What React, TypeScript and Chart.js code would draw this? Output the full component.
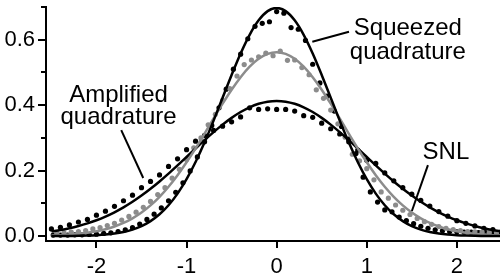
import React, { useEffect, useRef } from "react";
import { Chart, registerables } from "chart.js";

Chart.register(...registerables);

// ---- data ----
const curveX = [
  -2.5, -2.4, -2.3, -2.2, -2.1, -2.0, -1.9, -1.8, -1.7, -1.6, -1.5, -1.4, -1.3, -1.2, -1.1, -1.0, -0.9, -0.8, -0.7, -0.6, -0.5, -0.4, -0.3, -0.2, -0.1,
  0,
  0.1, 0.2, 0.3, 0.4, 0.5, 0.6, 0.7, 0.8, 0.9, 1.0, 1.1, 1.2, 1.3, 1.4, 1.5, 1.6, 1.7, 1.8, 1.9, 2.0, 2.1, 2.2, 2.3, 2.4, 2.5,
];

const squeezedFit = [
  0.0001, 0.0002, 0.0005, 0.0008, 0.0015, 0.0027, 0.0046, 0.0077, 0.0126, 0.0199, 0.0306, 0.0458, 0.0667, 0.0943, 0.1298, 0.1738, 0.2263, 0.2865, 0.3529, 0.4228, 0.4925, 0.5581, 0.6151, 0.6593, 0.6874,
  0.697,
  0.6874, 0.6593, 0.6151, 0.5581, 0.4925, 0.4228, 0.3529, 0.2865, 0.2263, 0.1738, 0.1298, 0.0943, 0.0667, 0.0458, 0.0306, 0.0199, 0.0126, 0.0077, 0.0046, 0.0027, 0.0015, 0.0008, 0.0005, 0.0002, 0.0001,
];

const snlFit = [
  0.0019, 0.0029, 0.0045, 0.0068, 0.01, 0.0146, 0.0208, 0.0292, 0.0401, 0.0543, 0.072, 0.0938, 0.1201, 0.1509, 0.1862, 0.2255, 0.2682, 0.3133, 0.3593, 0.4046, 0.4473, 0.4856, 0.5177, 0.5418, 0.5569,
  0.562,
  0.5569, 0.5418, 0.5177, 0.4856, 0.4473, 0.4046, 0.3593, 0.3133, 0.2682, 0.2255, 0.1862, 0.1509, 0.1201, 0.0938, 0.072, 0.0543, 0.0401, 0.0292, 0.0208, 0.0146, 0.01, 0.0068, 0.0045, 0.0029, 0.0019,
];

const amplifiedFit = [
  0.0145, 0.0188, 0.0242, 0.0309, 0.0389, 0.0484, 0.0597, 0.0728, 0.0878, 0.1047, 0.1237, 0.1445, 0.167, 0.1909, 0.216, 0.2417, 0.2676, 0.2931, 0.3176, 0.3406, 0.3612, 0.3791, 0.3935, 0.4042, 0.4108,
  0.413,
  0.4108, 0.4042, 0.3935, 0.3791, 0.3612, 0.3406, 0.3176, 0.2931, 0.2676, 0.2417, 0.216, 0.1909, 0.167, 0.1445, 0.1237, 0.1047, 0.0878, 0.0728, 0.0597, 0.0484, 0.0389, 0.0309, 0.0242, 0.0188, 0.0145,
];

const amplifiedDots = [
  0.022, 0.027, 0.034, 0.043, 0.051, 0.064, 0.076, 0.091, 0.108, 0.125, 0.148, 0.167, 0.187, 0.213, 0.236, 0.264, 0.29, 0.308,
  0.323, 0.336, 0.349, 0.364, 0.392, 0.387, 0.389, 0.387, 0.387, 0.382, 0.368, 0.363, 0.345, 0.328, 0.312, 0.288, 0.263, 0.232,
  0.222, 0.193, 0.169, 0.148, 0.128, 0.109, 0.092, 0.075, 0.061, 0.047, 0.039, 0.031, 0.024, 0.02, 0.015,
];

const squeezedX = [
  -2.48, -2.4, -2.32, -2.24, -2.16, -2.08, -2.0, -1.92, -1.84, -1.76, -1.68, -1.6, -1.52, -1.44, -1.36, -1.28, -1.2, -1.12, -1.04, -0.96, -0.88, -0.8, -0.72, -0.64, -0.56, -0.48, -0.4, -0.32, -0.24, -0.16, -0.08,
  0,
  0.08, 0.16, 0.24, 0.32, 0.4, 0.48, 0.56, 0.64, 0.72, 0.8, 0.88, 0.96, 1.04, 1.12, 1.2, 1.28, 1.36, 1.44, 1.52, 1.6, 1.68, 1.76, 1.84, 1.92, 2.0, 2.08, 2.16, 2.24, 2.32, 2.4, 2.48,
];

const squeezedDots = [
  0.003, 0.003, 0.003, 0.004, 0.004, 0.005, 0.006, 0.008, 0.01, 0.014, 0.019, 0.026, 0.037, 0.051, 0.067, 0.086, 0.108, 0.134, 0.163, 0.199, 0.242, 0.288, 0.338, 0.392, 0.449, 0.51, 0.556, 0.603, 0.641, 0.65, 0.655,
  0.686,
  0.681, 0.637, 0.632, 0.598, 0.525, 0.468, 0.428, 0.382, 0.335, 0.296, 0.252, 0.18, 0.135, 0.104, 0.08, 0.074, 0.058, 0.047, 0.038, 0.03, 0.024, 0.019, 0.016, 0.014, 0.013, 0.012, 0.012, 0.011, 0.011, 0.01, 0.01,
];

const snlX = [
  -2.44, -2.36, -2.28, -2.2, -2.12, -2.04, -1.96, -1.88, -1.8, -1.72, -1.64, -1.56, -1.48, -1.4, -1.32, -1.24, -1.16, -1.08, -1.0, -0.92, -0.84, -0.76, -0.68, -0.6, -0.52, -0.44, -0.36, -0.28, -0.2, -0.12, -0.04,
  0.04, 0.12, 0.2, 0.28, 0.36, 0.44, 0.52, 0.6, 0.68, 0.76, 0.84, 0.92, 1.0, 1.08, 1.16, 1.24, 1.32, 1.4, 1.48, 1.56, 1.64, 1.72, 1.8, 1.88, 1.96, 2.04, 2.12, 2.2, 2.28, 2.36, 2.44,
];

const snlDots = [
  0.009, 0.01, 0.012, 0.014, 0.017, 0.022, 0.026, 0.032, 0.039, 0.049, 0.06, 0.073, 0.088, 0.106, 0.127, 0.148, 0.177, 0.204, 0.234, 0.27, 0.3, 0.34, 0.372, 0.415, 0.451, 0.489, 0.524, 0.538, 0.548, 0.559, 0.551,
  0.565, 0.537, 0.538, 0.515, 0.493, 0.447, 0.421, 0.385, 0.343, 0.302, 0.25, 0.23, 0.206, 0.172, 0.135, 0.116, 0.095, 0.079, 0.066, 0.054, 0.044, 0.036, 0.029, 0.024, 0.02, 0.017, 0.014, 0.013, 0.012, 0.011, 0.01,
];

const xTicks = [-2, -1, 0, 1, 2];
const yTicks = [0, 0.2, 0.4, 0.6];
const yMinorTicks = [0.1, 0.3, 0.5, 0.7];

// annotation texts (anchored in data coordinates)
const labelTexts = ["Squeezed", "quadrature", "Amplified", "quadrature", "SNL"];
const labelX = [1.456, 1.456, -1.755, -1.755, 1.879];
const labelY = [0.613, 0.542, 0.409, 0.343, 0.237];
const leaderX1 = [0.396, -1.725, 1.679];
const leaderY1 = [0.594, 0.324, 0.217];
const leaderX2 = [0.803, -1.481, 1.501];
const leaderY2 = [0.6245, 0.1775, 0.0767];

const BLACK = "#000000";
const GRAY = "#8c8c8c";
const FONT = '"Liberation Sans", Arial, Helvetica, sans-serif';

function pts(xs: number[], ys: number[]) {
  return xs.map((x, i) => ({ x, y: ys[i] }));
}

export default function App() {
  const ref = useRef<HTMLCanvasElement>(null);

  useEffect(() => {
    const canvas = ref.current;
    if (!canvas) return;

    const overlay = {
      id: "overlay",
      afterDraw(chart: any) {
        const { ctx, chartArea } = chart;
        const xs = chart.scales.x;
        const ys = chart.scales.y;
        ctx.save();
        ctx.strokeStyle = BLACK;
        ctx.lineWidth = 2;
        yMinorTicks.forEach((v) => {
          const py = Math.round(ys.getPixelForValue(v));
          ctx.beginPath();
          ctx.moveTo(chartArea.left - 5, py);
          ctx.lineTo(chartArea.left, py);
          ctx.stroke();
        });
        leaderX1.forEach((x1, i) => {
          ctx.beginPath();
          ctx.moveTo(xs.getPixelForValue(x1), ys.getPixelForValue(leaderY1[i]));
          ctx.lineTo(xs.getPixelForValue(leaderX2[i]), ys.getPixelForValue(leaderY2[i]));
          ctx.stroke();
        });
        ctx.fillStyle = BLACK;
        ctx.font = `24px ${FONT}`;
        ctx.textAlign = "center";
        ctx.textBaseline = "alphabetic";
        labelTexts.forEach((t, i) => {
          ctx.fillText(t, xs.getPixelForValue(labelX[i]), ys.getPixelForValue(labelY[i]));
        });
        ctx.restore();
      },
    };

    const chart = new Chart(canvas, {
      type: "scatter",
      data: {
        datasets: [
          { type: "line", data: pts(curveX, squeezedFit), borderColor: BLACK, borderWidth: 2.5, pointRadius: 0, cubicInterpolationMode: "monotone", order: 0 },
          { type: "line", data: pts(curveX, snlFit), borderColor: GRAY, borderWidth: 2.5, pointRadius: 0, cubicInterpolationMode: "monotone", order: 0 },
          { type: "line", data: pts(curveX, amplifiedFit), borderColor: BLACK, borderWidth: 2.5, pointRadius: 0, cubicInterpolationMode: "monotone", order: 0 },
          { data: pts(snlX, snlDots), backgroundColor: GRAY, borderWidth: 0, pointRadius: 2.6, showLine: false, order: 1 },
          { data: pts(squeezedX, squeezedDots), backgroundColor: BLACK, borderWidth: 0, pointRadius: 2.6, showLine: false, order: 1 },
          { data: pts(curveX, amplifiedDots), backgroundColor: BLACK, borderWidth: 0, pointRadius: 2.6, showLine: false, order: 1 },
        ],
      },
      options: {
        animation: false,
        responsive: false,
        devicePixelRatio: 1,
        layout: { padding: { top: 7, left: 0, right: 0, bottom: 0 } },
        plugins: { legend: { display: false }, tooltip: { enabled: false }, title: { display: false } },
        scales: {
          x: {
            type: "linear",
            min: -2.56,
            max: 2.49,
            afterBuildTicks: (s: any) => { s.ticks = xTicks.map((v) => ({ value: v })); },
            afterFit: (s: any) => { s.height = 39; s.paddingLeft = 0; s.paddingRight = 0; },
            grid: { display: true, drawOnChartArea: false, drawTicks: true, tickLength: 7, color: BLACK, lineWidth: 2 },
            border: { display: true, color: BLACK, width: 2 },
            ticks: { autoSkip: false, maxRotation: 0, padding: 6, color: BLACK, font: { family: FONT, size: 22 }, callback: (v: any) => String(v) },
          },
          y: {
            type: "linear",
            min: -0.015,
            max: 0.7,
            afterBuildTicks: (s: any) => { s.ticks = yTicks.map((v) => ({ value: v })); },
            afterFit: (s: any) => { s.width = 46; s.paddingTop = 0; s.paddingBottom = 0; },
            grid: { display: true, drawOnChartArea: false, drawTicks: true, tickLength: 8, color: BLACK, lineWidth: 2 },
            border: { display: true, color: BLACK, width: 2 },
            ticks: { padding: 3, color: BLACK, font: { family: FONT, size: 22 }, callback: (v: any) => Number(v).toFixed(1) },
          },
        },
      },
      plugins: [overlay],
    } as any);

    return () => chart.destroy();
  }, []);

  return (
    <div style={{ position: "absolute", left: 0, top: 0, width: 500, height: 280, overflow: "hidden", background: "#fff" }}>
      <canvas ref={ref} width={505} height={280} style={{ display: "block", width: 505, height: 280 }} />
    </div>
  );
}
